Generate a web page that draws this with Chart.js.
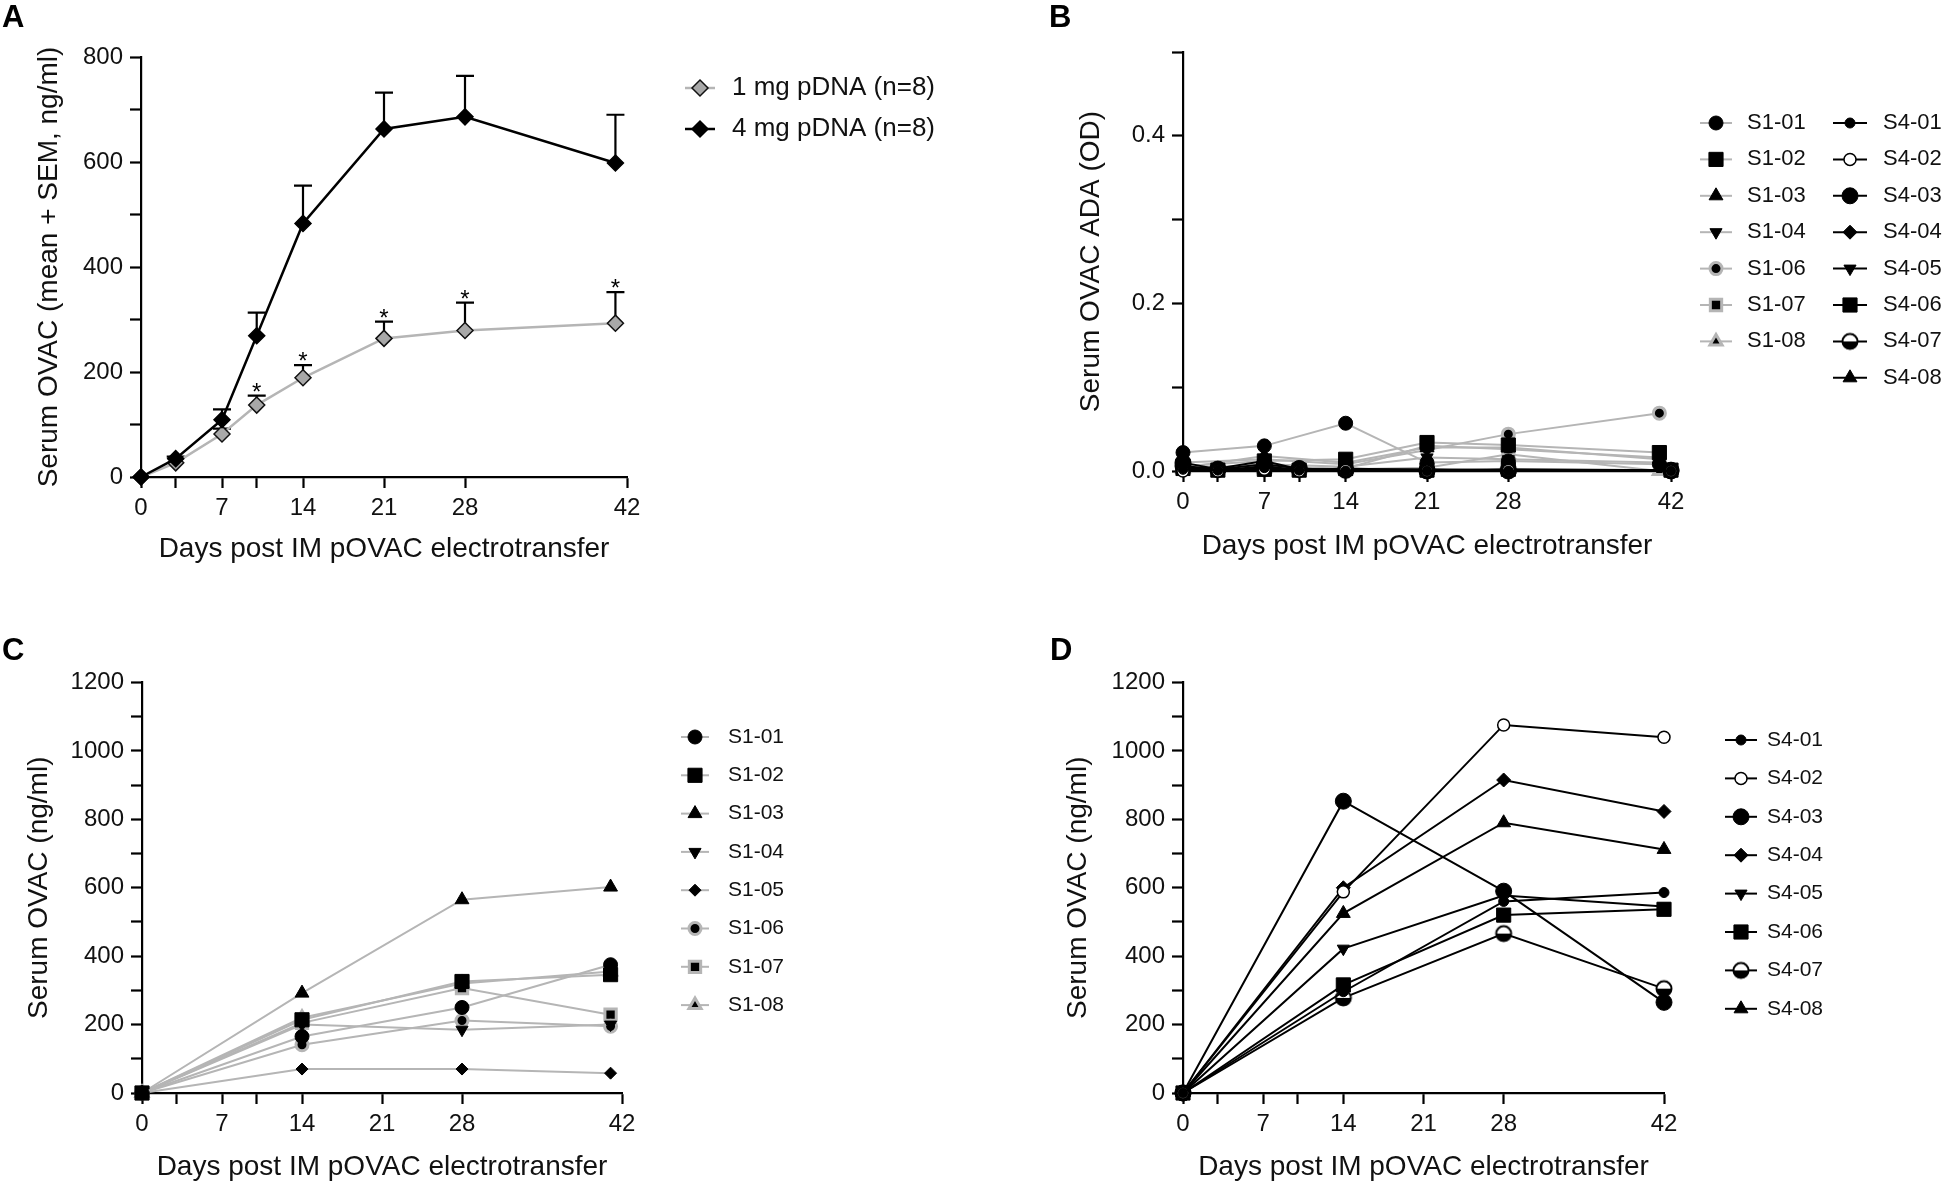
<!DOCTYPE html>
<html>
<head>
<meta charset="utf-8">
<script src="https://cdn.jsdelivr.net/npm/chart.js@4.4.1/dist/chart.umd.min.js"></script>
<style>
  html, body { margin: 0; padding: 0; background: #fff; }
  #page { position: relative; width: 1945px; height: 1184px; overflow: hidden; }
  canvas { position: absolute; }
  .tag { position: absolute; font: bold 31px "Liberation Sans", Arial, sans-serif; line-height: 31px; color: #000; }
</style>
</head>
<body>
<div id="page">
  <canvas id="chartA" width="972" height="592" style="left:0;top:0;width:972px;height:592px"></canvas>
  <canvas id="chartB" width="973" height="592" style="left:972px;top:0;width:973px;height:592px"></canvas>
  <canvas id="chartC" width="972" height="592" style="left:0;top:592px;width:972px;height:592px"></canvas>
  <canvas id="chartD" width="973" height="592" style="left:972px;top:592px;width:973px;height:592px"></canvas>
  <div class="tag" style="left:2px;top:1px">A</div>
  <div class="tag" style="left:1049px;top:1px">B</div>
  <div class="tag" style="left:2px;top:634px">C</div>
  <div class="tag" style="left:1050px;top:634px">D</div>
</div>
<script>
// ---------- data ----------
const xTickDays = [0, 3, 7, 10, 14, 21, 28, 42];
const xLabelDays = [0, 7, 14, 21, 28, 42];

// A: group mean + SEM
const daysA = [0, 3, 7, 10, 14, 21, 28, 41];
const mean1mg = [0, 27, 82, 137, 189, 264, 279, 293];
const sem1mg = [0, 0, 10, 18, 24, 32, 53, 59];
const mean4mg = [0, 35, 109, 269, 483, 663, 686, 598];
const sem4mg = [0, 4, 20, 44, 72, 69, 78, 92];
const starDays = [10, 14, 21, 28, 41];
const yTicksA = [0, 100, 200, 300, 400, 500, 600, 700, 800];
const yLabelsA = [0, 200, 400, 600, 800];

// B: anti-drug antibodies (OD)
const daysB1 = [0, 7, 14, 21, 28, 41];
const daysB4 = [0, 3, 7, 10, 14, 21, 28, 42];
const idsS1B = ['S1-01', 'S1-02', 'S1-03', 'S1-04', 'S1-06', 'S1-07', 'S1-08'];
const adaS1 = [
  [0.022, 0.030, 0.057, 0.010, 0.012, 0.008],
  [0.006, 0.012, 0.014, 0.034, 0.031, 0.022],
  [0.004, 0.018, 0.010, 0.028, 0.028, 0.014],
  [0.002, 0.008, 0.005, 0.016, 0.014, 0.010],
  [0.010, 0.014, 0.008, 0.025, 0.044, 0.069],
  [0.005, 0.005, 0.003, 0.030, 0.026, 0.016],
  [0.003, 0.003, 0.002, 0.004, 0.020, 0.000]
];
const idsS4 = ['S4-01', 'S4-02', 'S4-03', 'S4-04', 'S4-05', 'S4-06', 'S4-07', 'S4-08'];
const adaS4 = [
  [0.002, 0.001, 0.004, 0.001, 0.000, 0.000, 0.000, 0.000],
  [0.000, 0.000, 0.002, 0.000, 0.001, 0.000, 0.001, 0.000],
  [0.010, 0.002, 0.008, 0.003, 0.001, 0.001, 0.000, 0.001],
  [0.004, 0.003, 0.012, 0.002, 0.002, 0.002, 0.001, 0.001],
  [0.001, 0.000, 0.006, 0.001, 0.000, 0.000, 0.000, 0.000],
  [0.003, 0.001, 0.002, 0.001, 0.003, 0.001, 0.002, 0.001],
  [0.006, 0.002, 0.003, 0.002, 0.001, 0.000, 0.001, 0.000],
  [0.002, 0.001, 0.001, 0.000, 0.000, 0.001, 0.000, 0.001]
];
const yTicksB = [0, 0.1, 0.2, 0.3, 0.4, 0.5];
const yLabelsB = [0, 0.2, 0.4];

// C: 1 mg animals (ng/ml)
const daysC = [0, 14, 28, 41];
const idsS1C = ['S1-01', 'S1-02', 'S1-03', 'S1-04', 'S1-05', 'S1-06', 'S1-07', 'S1-08'];
const ovacS1 = [
  [0, 165, 250, 375],
  [0, 214, 326, 346],
  [0, 292, 565, 602],
  [0, 200, 185, 200],
  [0, 70, 70, 58],
  [0, 141, 212, 195],
  [0, 205, 307, 229],
  [0, 220, 320, 355]
];

// D: 4 mg animals (ng/ml)
const daysD = [0, 14, 28, 42];
const ovacS4 = [
  [0, 296, 560, 586],
  [0, 588, 1076, 1040],
  [0, 853, 590, 265],
  [0, 600, 915, 823],
  [0, 422, 577, 545],
  [0, 316, 520, 537],
  [0, 278, 466, 305],
  [0, 525, 790, 712]
];
const yTicksCD = [0, 100, 200, 300, 400, 500, 600, 700, 800, 900, 1000, 1100, 1200];
const yLabelsCD = [0, 200, 400, 600, 800, 1000, 1200];

// ---------- styles ----------
const FONT = '"Liberation Sans", Arial, Helvetica, sans-serif';
Chart.defaults.font.family = FONT;
Chart.defaults.color = '#111';
const GREY = '#b5b5b5';

function halfCircle(r) {
  const c = document.createElement('canvas');
  const s = 2 * r + 4;
  c.width = c.height = s;
  const g = c.getContext('2d');
  const m = s / 2;
  g.fillStyle = '#fff';
  g.beginPath(); g.arc(m, m, r, 0, 2 * Math.PI); g.fill();
  g.fillStyle = '#000';
  g.beginPath(); g.arc(m, m, r, 0, Math.PI); g.fill();
  g.strokeStyle = '#000'; g.lineWidth = 2;
  g.beginPath(); g.arc(m, m, r - 0.5, 0, 2 * Math.PI); g.stroke();
  return c;
}

const markS1 = {
  'S1-01': { style: 'circle', r: 7 },
  'S1-02': { style: 'rect', r: 10 },
  'S1-03': { style: 'triangle', r: 8 },
  'S1-04': { style: 'triangle', r: 7, rot: 180 },
  'S1-05': { style: 'rectRot', r: 6 },
  'S1-06': { style: 'circle', r: 6, edge: GREY, bw: 3 },
  'S1-07': { style: 'rect', r: 8, edge: GREY, bw: 3 },
  'S1-08': { style: 'triangle', r: 7, edge: GREY, bw: 3 }
};
const markS4 = {
  'S4-01': { style: 'circle', r: 5 },
  'S4-02': { style: 'circle', r: 6, fill: '#fff', bw: 1.5 },
  'S4-03': { style: 'circle', r: 8 },
  'S4-04': { style: 'rectRot', r: 7 },
  'S4-05': { style: 'triangle', r: 7, rot: 180 },
  'S4-06': { style: 'rect', r: 10 },
  'S4-07': { style: halfCircle(8), r: 8 },
  'S4-08': { style: 'triangle', r: 8 }
};

function toPoints(days, vals) {
  return days.map((d, i) => ({ x: d, y: vals[i] }));
}

function series(id, days, vals, mark, lineColor, order) {
  return {
    label: id,
    data: toPoints(days, vals),
    borderColor: lineColor,
    borderWidth: 2,
    pointStyle: mark.style,
    pointRadius: mark.r,
    pointHoverRadius: mark.r,
    pointRotation: mark.rot || 0,
    pointBackgroundColor: mark.fill || '#000',
    pointBorderColor: mark.edge || '#000',
    pointBorderWidth: mark.bw || 1,
    clip: false,
    order: order
  };
}

// ---------- plugins ----------
function drawMark(ctx, ds, x, y) {
  if (Chart.helpers && Chart.helpers.drawPoint) {
    Chart.helpers.drawPoint(ctx, {
      pointStyle: ds.pointStyle, radius: ds.pointRadius,
      rotation: ds.pointRotation, borderWidth: ds.pointBorderWidth
    }, x, y);
  } else {
    ctx.beginPath(); ctx.arc(x, y, ds.pointRadius, 0, 2 * Math.PI); ctx.fill(); ctx.stroke();
  }
}

const sideLegend = {
  id: 'sideLegend',
  afterDraw(chart, args, opts) {
    const ctx = chart.ctx;
    ctx.save();
    ctx.font = opts.fontSize + 'px ' + FONT;
    ctx.textBaseline = 'middle';
    ctx.textAlign = 'left';
    opts.columns.forEach(col => {
      col.items.forEach((di, row) => {
        const ds = chart.data.datasets[di];
        const y = col.y + row * col.gap;
        ctx.strokeStyle = ds.borderColor;
        ctx.lineWidth = ds.borderWidth;
        ctx.beginPath();
        ctx.moveTo(col.x - col.half, y);
        ctx.lineTo(col.x + col.half, y);
        ctx.stroke();
        ctx.fillStyle = ds.pointBackgroundColor;
        ctx.strokeStyle = ds.pointBorderColor;
        ctx.lineWidth = ds.pointBorderWidth;
        drawMark(ctx, ds, col.x, y);
        ctx.fillStyle = '#111';
        ctx.fillText(ds.label, col.textX, y);
      });
    });
    ctx.restore();
  }
};

const errorBars = {
  id: 'errorBars',
  beforeDatasetsDraw(chart, args, opts) {
    if (!opts || !opts.sets) return;
    const { ctx, scales: { x, y } } = chart;
    ctx.save();
    ctx.strokeStyle = '#000';
    ctx.lineWidth = 2.2;
    opts.sets.forEach(s => {
      s.days.forEach((d, i) => {
        if (!s.sem[i]) return;
        const px = x.getPixelForValue(d);
        const y0 = y.getPixelForValue(s.mean[i]);
        const y1 = y.getPixelForValue(s.mean[i] + s.sem[i]);
        ctx.beginPath();
        ctx.moveTo(px, y0); ctx.lineTo(px, y1);
        ctx.moveTo(px - 9, y1); ctx.lineTo(px + 9, y1);
        ctx.stroke();
      });
    });
    const st = opts.stars;
    ctx.fillStyle = '#000';
    ctx.font = '24px ' + FONT;
    ctx.textAlign = 'center';
    ctx.textBaseline = 'alphabetic';
    st.days.forEach(d => {
      const i = st.set.days.indexOf(d);
      const px = x.getPixelForValue(d);
      const top = y.getPixelForValue(st.set.mean[i] + st.set.sem[i]);
      ctx.fillText('*', px, top + 4);
    });
    ctx.restore();
  }
};

// ---------- scales ----------
const axisGrid = { drawOnChartArea: false, drawTicks: true, tickLength: 11, tickWidth: 2.2, tickColor: '#000' };
const axisBorder = { display: true, color: '#000', width: 2.2 };

function xScale(height, titlePad) {
  return {
    type: 'linear', min: 0, max: 42,
    afterBuildTicks: ax => { ax.ticks = xTickDays.map(v => ({ value: v })); },
    afterFit: ax => { ax.height = height; },
    ticks: {
      autoSkip: false, maxRotation: 0, padding: 6, color: '#111', font: { size: 24 },
      callback: v => (xLabelDays.includes(v) ? String(v) : '')
    },
    grid: axisGrid,
    border: axisBorder,
    title: {
      display: true, text: 'Days post IM pOVAC electrotransfer', color: '#111',
      font: { size: 28 }, padding: { top: 0, bottom: titlePad }
    }
  };
}

function yScale(ticks, labels, fmt, title, width, titlePad) {
  return {
    type: 'linear', min: ticks[0], max: ticks[ticks.length - 1],
    afterBuildTicks: ax => { ax.ticks = ticks.map(v => ({ value: v })); },
    afterFit: ax => { ax.width = width; },
    ticks: {
      autoSkip: false, padding: 7, color: '#111', font: { size: 24 },
      callback: v => (labels.some(l => Math.abs(l - v) < 1e-9) ? fmt(v) : '')
    },
    grid: axisGrid,
    border: axisBorder,
    title: {
      display: true, text: title, color: '#111',
      font: { size: 28 }, padding: { top: titlePad, bottom: 0 }
    }
  };
}

function baseOptions(padding, scales, legendOpts, extra) {
  const plugins = { legend: { display: false }, tooltip: { enabled: false }, sideLegend: legendOpts };
  if (extra) plugins.errorBars = extra;
  return {
    responsive: false, animation: false, devicePixelRatio: 1,
    layout: { padding: padding },
    elements: { line: { tension: 0 } },
    scales: scales,
    plugins: plugins
  };
}

// ---------- panel A ----------
const set1 = { days: daysA, mean: mean1mg, sem: sem1mg };
const set4 = { days: daysA, mean: mean4mg, sem: sem4mg };
const dsOne = {
  label: '1 mg pDNA (n=8)', data: toPoints(daysA, mean1mg),
  borderColor: GREY, borderWidth: 2.5, pointStyle: 'rectRot', pointRadius: 8, pointHoverRadius: 8,
  pointRotation: 0, pointBackgroundColor: '#a8a8a8', pointBorderColor: '#111', pointBorderWidth: 1.5,
  clip: false, order: 1
};
const dsFour = {
  label: '4 mg pDNA (n=8)', data: toPoints(daysA, mean4mg),
  borderColor: '#000', borderWidth: 2.5, pointStyle: 'rectRot', pointRadius: 8, pointHoverRadius: 8,
  pointRotation: 0, pointBackgroundColor: '#000', pointBorderColor: '#000', pointBorderWidth: 1.5,
  clip: false, order: 0
};
new Chart(document.getElementById('chartA'), {
  type: 'line',
  data: { datasets: [dsOne, dsFour] },
  options: baseOptions(
    { left: 0, top: 57, right: 345, bottom: 0 },
    {
      x: xScale(115, 26),
      y: yScale(yTicksA, yLabelsA, v => String(v), 'Serum OVAC (mean + SEM, ng/ml)', 141, 32)
    },
    { fontSize: 26, columns: [{ x: 700, half: 15, textX: 732, y: 88, gap: 41, items: [0, 1] }] },
    { sets: [set1, set4], stars: { days: starDays, set: set1 } }
  ),
  plugins: [errorBars, sideLegend]
});

// ---------- panel B ----------
const dsB = [];
idsS1B.forEach((id, i) => dsB.push(series(id, daysB1, adaS1[i], markS1[id], GREY, 1)));
idsS4.forEach((id, i) => dsB.push(series(id, daysB4, adaS4[i], markS4[id], '#000', 0)));
new Chart(document.getElementById('chartB'), {
  type: 'line',
  data: { datasets: dsB },
  options: baseOptions(
    { left: 0, top: 52, right: 274, bottom: 0 },
    {
      x: xScale(121, 29),
      y: yScale(yTicksB, yLabelsB, v => v.toFixed(1), 'Serum OVAC ADA (OD)', 211, 102)
    },
    {
      fontSize: 22,
      columns: [
        { x: 744, half: 16, textX: 775, y: 123, gap: 36.4, items: [0, 1, 2, 3, 4, 5, 6] },
        { x: 878, half: 17, textX: 911, y: 123, gap: 36.4, items: [7, 8, 9, 10, 11, 12, 13, 14] }
      ]
    }
  ),
  plugins: [sideLegend]
});

// ---------- panel C ----------
const dsC = idsS1C.map((id, i) => series(id, daysC, ovacS1[i], markS1[id], GREY, 0));
new Chart(document.getElementById('chartC'), {
  type: 'line',
  data: { datasets: dsC },
  options: baseOptions(
    { left: 0, top: 90.5, right: 350, bottom: 0 },
    {
      x: xScale(91, 0),
      y: yScale(yTicksCD, yLabelsCD, v => String(v), 'Serum OVAC (ng/ml)', 142, 22)
    },
    { fontSize: 21, columns: [{ x: 695, half: 14, textX: 728, y: 145, gap: 38.3, items: [0, 1, 2, 3, 4, 5, 6, 7] }] }
  ),
  plugins: [sideLegend]
});

// ---------- panel D ----------
const dsD = idsS4.map((id, i) => series(id, daysD, ovacS4[i], markS4[id], '#000', 0));
new Chart(document.getElementById('chartD'), {
  type: 'line',
  data: { datasets: dsD },
  options: baseOptions(
    { left: 0, top: 90.5, right: 281, bottom: 0 },
    {
      x: xScale(91, 0),
      y: yScale(yTicksCD, yLabelsCD, v => String(v), 'Serum OVAC (ng/ml)', 211, 89)
    },
    { fontSize: 21, columns: [{ x: 769, half: 16, textX: 795, y: 148, gap: 38.4, items: [0, 1, 2, 3, 4, 5, 6, 7] }] }
  ),
  plugins: [sideLegend]
});
</script>
</body>
</html>
